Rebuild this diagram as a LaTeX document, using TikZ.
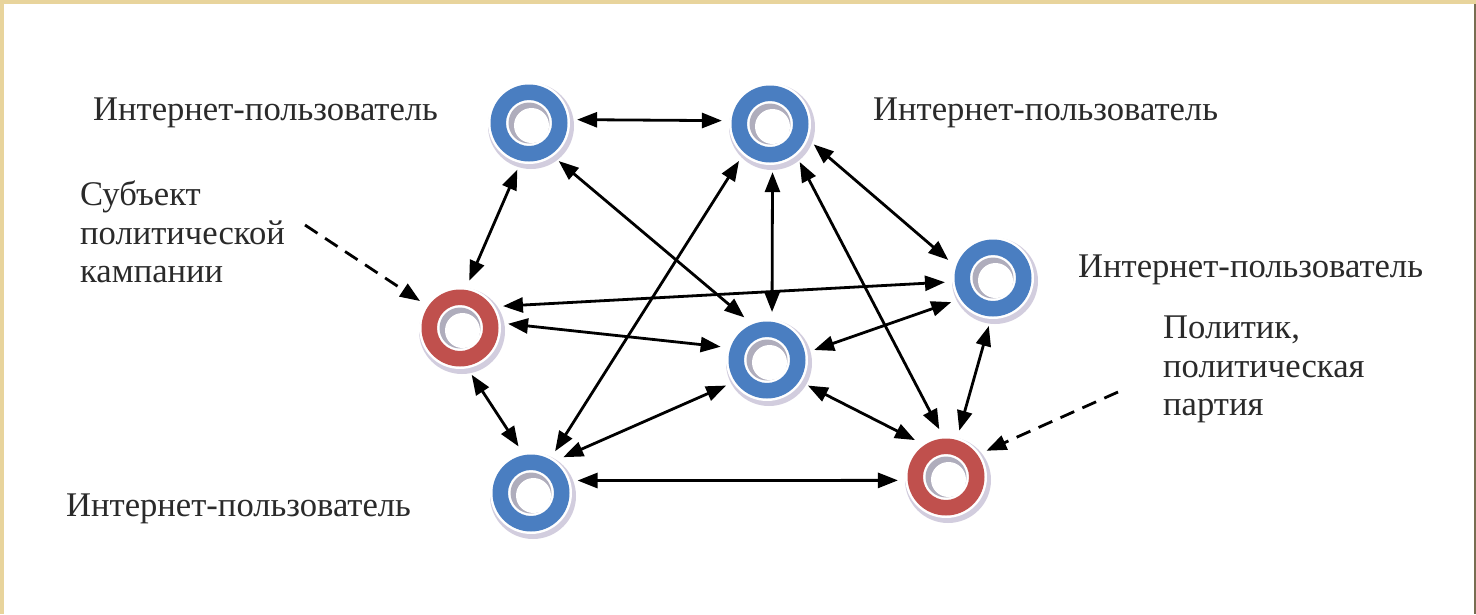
\documentclass[tikz,border=0pt]{standalone}
\usepackage{fontspec}
\setmainfont{Liberation Serif}
\usetikzlibrary{arrows.meta}
\definecolor{ublue}{RGB}{74,126,193}
\definecolor{ured}{RGB}{192,80,77}
\definecolor{halo}{RGB}{210,205,222}
\definecolor{holeshade}{RGB}{175,173,188}
\definecolor{txt}{RGB}{42,42,42}
\definecolor{beige}{RGB}{232,212,156}
\definecolor{edgeline}{RGB}{120,110,82}
\tikzset{
  hub/.style={circle, inner sep=0pt, minimum size=96pt},
  lbl/.style={text=txt, font=\fontsize{34.6}{38.5}\selectfont, inner sep=0pt},
  link/.style={line width=2.8pt, {Triangle[length=20pt,width=15pt]}-{Triangle[length=20pt,width=15pt]}},
  pointer/.style={line width=2.8pt, dash pattern=on 15pt off 9pt, -{Triangle[length=20pt,width=15pt]}}
}
\begin{document}
\begin{tikzpicture}[x=1pt,y=-1pt]
\useasboundingbox (0,0) rectangle (1476,614);
\fill[beige] (0,0) rectangle (1476,614);
\fill[white] (4,4) rectangle (1476,614);
\fill[edgeline] (1474,4) rectangle (1476,614);

\node[hub] (U1) at (529,123) {};
\node[hub] (U2) at (770,124) {};
\node[hub] (U3) at (993,278) {};
\node[hub] (S)  at (460,328) {};
\node[hub] (C)  at (767,360) {};
\node[hub] (U4) at (531,493) {};
\node[hub] (P)  at (946,477) {};

\foreach \n/\c in {U1/ublue,U2/ublue,U3/ublue,S/ured,C/ublue,U4/ublue,P/ured}{
  \fill[halo] ([shift={(2,3)}]\n.center) circle (43pt);
  \fill[white] (\n.center) circle (41pt);
  \fill[\c, even odd rule] (\n.center) circle (38.5pt) circle (23pt);
  \fill[holeshade] (\n.center) circle (20.5pt);
  \fill[white] ([shift={(2.5,2.5)}]\n.center) circle (17.5pt);
}

\draw[link] (U1.4) -- (U2.176);
\draw[link] (U1.256) -- (S.79);
\draw[link] (U1.-52) -- (C.118);
\draw[link] (U2.-87) -- (C.84);
\draw[link] (U2.-130) -- (U4.60);
\draw[link] (U2.-52) -- (P.98);
\draw[link] (U2.-25) -- (U3.158);
\draw[link] (U3.185) -- (S.27);
\draw[link] (S.5) -- (C.164);
\draw[link] (S.-76) -- (U4.105);
\draw[link] (U3.210) -- (C.12);
\draw[link] (U3.-95) -- (P.74);
\draw[link] (C.-148) -- (U4.48);
\draw[link] (C.-32) -- (P.130);
\draw[link] (U4.15) -- (P.184);

\node[lbl, anchor=base west] (L1) at (93,120) {Интернет-пользователь};
\node[lbl, anchor=base west] (L2) at (873,120) {Интернет-пользователь};
\node[lbl, anchor=base west] (L3) at (1078,277) {Интернет-пользователь};
\node[lbl, anchor=base west] (L4) at (66,516) {Интернет-пользователь};
\node[lbl, anchor=north west, align=left] (SL) at (80,181) {Субъект\\политической\\кампании};
\node[lbl, anchor=north west, align=left] (PL) at (1163,316) {Политик,\\политическая\\партия};

\coordinate (sa) at (305,225);
\coordinate (pa) at (1118,392);
\draw[pointer] (sa) -- (S.146);
\draw[pointer] (pa) -- (P.33);
\end{tikzpicture}
\end{document}
